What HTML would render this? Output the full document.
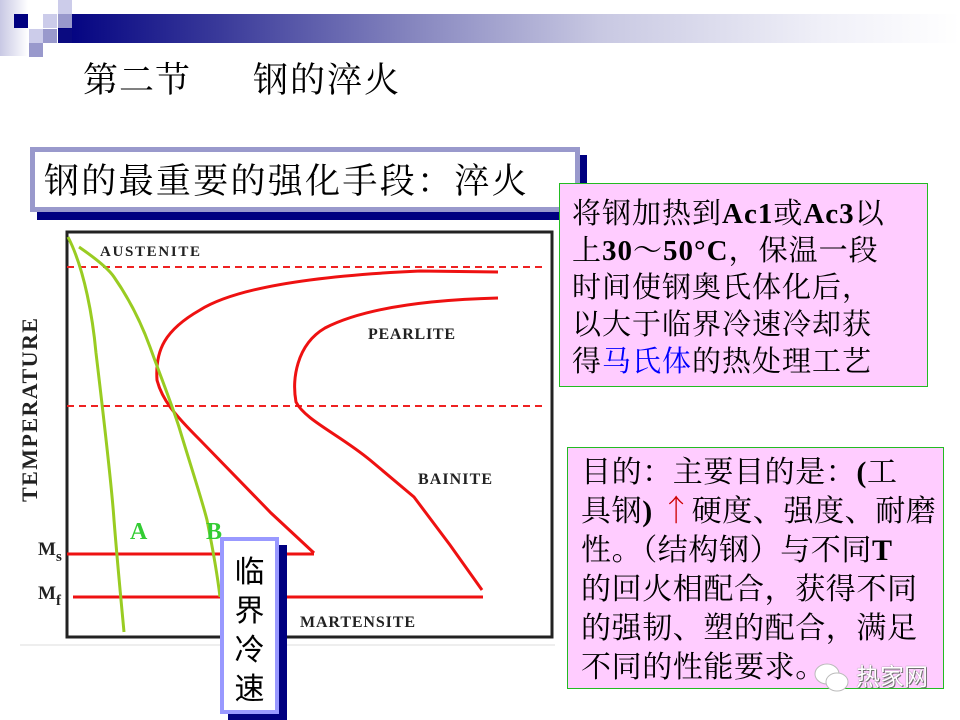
<!DOCTYPE html>
<html><head><meta charset="utf-8"><style>
html,body{margin:0;padding:0;background:#fff;width:960px;height:720px;overflow:hidden;position:relative;font-family:"Liberation Serif","Noto Serif CJK SC",serif;}
.a{position:absolute;}
.sq{position:absolute;width:14px;height:14px;}
.pink{position:absolute;background:#ffccff;border:1px solid #22bb22;box-sizing:border-box;color:#000;}
.cj{font-family:"Noto Serif CJK SC",serif;}
.l1{height:37px;line-height:37px;overflow:visible;}
.l2{height:39px;line-height:39px;overflow:visible;}
b{font-family:"Liberation Serif",serif;}
</style></head><body>
<div class="a" style="left:0;top:0;width:28px;height:56px;background:linear-gradient(90deg,#c8c8e4,#fff);"></div>
<div class="a" style="left:58px;top:14px;width:902px;height:29px;background:linear-gradient(90deg,#000080 0%,#3a3a9a 18%,#8888c0 40%,#c8c8e2 60%,#f0f0f8 85%,#fff 100%);"></div>
<div class="sq" style="left:14px;top:14px;background:#000080"></div>
<div class="sq" style="left:58px;top:0;background:#ccccea"></div>
<div class="sq" style="left:43px;top:14px;background:#ccccea"></div>
<div class="sq" style="left:58px;top:14px;background:#9999cc"></div>
<div class="sq" style="left:29px;top:29px;background:#ccccea"></div>
<div class="sq" style="left:43px;top:29px;background:#9999cc"></div>
<div class="sq" style="left:29px;top:43px;background:#9999cc"></div>
<div class="a" style="left:58px;top:29px;width:14px;height:14px;background:#0a0a80"></div>

<div class="a cj" style="left:83px;top:56px;font-size:35px;line-height:44px;letter-spacing:1px;">第二节</div>
<div class="a cj" style="left:253px;top:56px;font-size:35px;line-height:44px;letter-spacing:2px;">钢的淬火</div>

<div class="a" style="left:37px;top:155px;width:550px;height:65px;background:#000080"></div>
<div class="a" style="left:30px;top:147px;width:550px;height:65px;background:#fff;border:5px solid #9999cc;box-sizing:border-box;"></div>
<div class="a cj" style="left:44px;top:154px;font-size:35px;line-height:50px;letter-spacing:2.3px;white-space:nowrap;">钢的最重要的强化手段：淬火</div>

<svg class="a" style="left:0;top:220px" width="560" height="430" viewBox="0 220 560 430">
<rect x="8" y="222" width="550" height="422" fill="#fff"/>
<line x1="20" y1="645" x2="555" y2="645" stroke="#eee" stroke-width="2"/>
<rect x="67" y="232" width="485" height="405" fill="none" stroke="#222" stroke-width="3"/>
<line x1="67" y1="267" x2="542" y2="267" stroke="#ee2222" stroke-width="2" stroke-dasharray="7,5"/>
<line x1="67" y1="406" x2="542" y2="406" stroke="#ee2222" stroke-width="2" stroke-dasharray="7,5"/>
<line x1="67" y1="554" x2="314" y2="554" stroke="#ee1111" stroke-width="3"/>
<line x1="73" y1="597" x2="483" y2="597" stroke="#ee1111" stroke-width="3"/>
<path d="M498,272 L420,271 C330,275 240,285 200,310 C165,330 155,350 157,380 C162,400 175,415 200,440 L271,513 L314,553" fill="none" stroke="#ee1111" stroke-width="3"/>
<path d="M498,298 C420,300 360,310 325,328 C296,345 292,380 296,402 C305,420 340,435 370,460 L414,497 L450,545 L482,590" fill="none" stroke="#ee1111" stroke-width="3"/>
<path d="M68,237 C85,270 93,320 96,353 C104,420 112,490 114,520 C118,570 122,610 124,632" fill="none" stroke="#99cc22" stroke-width="3"/>
<path d="M79,247 C95,258 108,268 114,277 C130,300 142,325 150,347 C162,380 172,405 179,427 C192,470 202,500 207,520 C213,550 218,580 220,597" fill="none" stroke="#99cc22" stroke-width="3"/>
<g font-family="Liberation Serif,serif" font-weight="bold" fill="#222">
<text x="100" y="256" font-size="15" textLength="100">AUSTENITE</text>
<text x="368" y="339" font-size="16" textLength="87">PEARLITE</text>
<text x="418" y="484" font-size="16" textLength="74">BAINITE</text>
<text x="300" y="627" font-size="16" textLength="115">MARTENSITE</text>
<text x="38" y="555" font-size="19">M<tspan font-size="15" dy="6">s</tspan></text>
<text x="38" y="599" font-size="19">M<tspan font-size="15" dy="6">f</tspan></text>
<text transform="translate(37,410) rotate(-90)" text-anchor="middle" font-size="22" textLength="184">TEMPERATURE</text>
</g>
<text x="130" y="539" font-family="Liberation Serif,serif" font-weight="bold" font-size="24" fill="#33cc33">A</text>
<text x="206" y="539" font-family="Liberation Serif,serif" font-weight="bold" font-size="24" fill="#33cc33">B</text>
</svg>

<div class="a" style="left:228px;top:545px;width:59px;height:175px;background:#000080"></div>
<div class="a" style="left:220px;top:537px;width:59px;height:177px;background:#fff;border:4px solid #9999ff;box-sizing:border-box;"></div>
<div class="a" style="left:220px;top:550px;width:59px;text-align:center;font-size:30px;line-height:39px;font-family:'Noto Sans CJK SC',sans-serif;">临<br>界<br>冷<br>速</div>

<div class="pink" style="left:559px;top:183px;width:369px;height:204px;padding:9px 0 0 12px;font-size:29px;white-space:nowrap;letter-spacing:1px;font-family:'Noto Serif CJK SC',serif;">
<div class="l1">将钢加热到<b>Ac1</b>或<b>Ac3</b>以</div>
<div class="l1">上<b>30</b>～<b>50°C</b>，保温一段</div>
<div class="l1">时间使钢奥氏体化后，</div>
<div class="l1">以大于临界冷速冷却获</div>
<div class="l1">得<span style="color:#0000ff">马氏体</span>的热处理工艺</div>
</div>

<div class="pink" style="left:567px;top:447px;width:377px;height:242px;padding:2px 0 0 13px;font-size:30px;white-space:nowrap;letter-spacing:0.6px;font-family:'Noto Serif CJK SC',serif;">
<div class="l2">目的：主要目的是：<b>(</b>工</div>
<div class="l2">具钢<b>)</b> <span style="color:#cc0000">↑</span>硬度、强度、耐磨</div>
<div class="l2">性。（结构钢）与不同<b>T</b></div>
<div class="l2">的回火相配合，获得不同</div>
<div class="l2">的强韧、塑的配合，满足</div>
<div class="l2">不同的性能要求。</div>
</div>
<svg class="a" style="left:812px;top:660px" width="40" height="34"><ellipse cx="15" cy="14" rx="12" ry="10" fill="#fff" stroke="#bbb"/><ellipse cx="25" cy="22" rx="11" ry="9" fill="#fff" stroke="#bbb"/></svg>
<div class="a" style="left:856px;top:660px;font-size:24px;line-height:30px;color:#fff;font-family:'Noto Sans CJK SC',sans-serif;text-shadow:0 0 1px #555,1px 1px 0 #777;">热家网</div>
</body></html>
